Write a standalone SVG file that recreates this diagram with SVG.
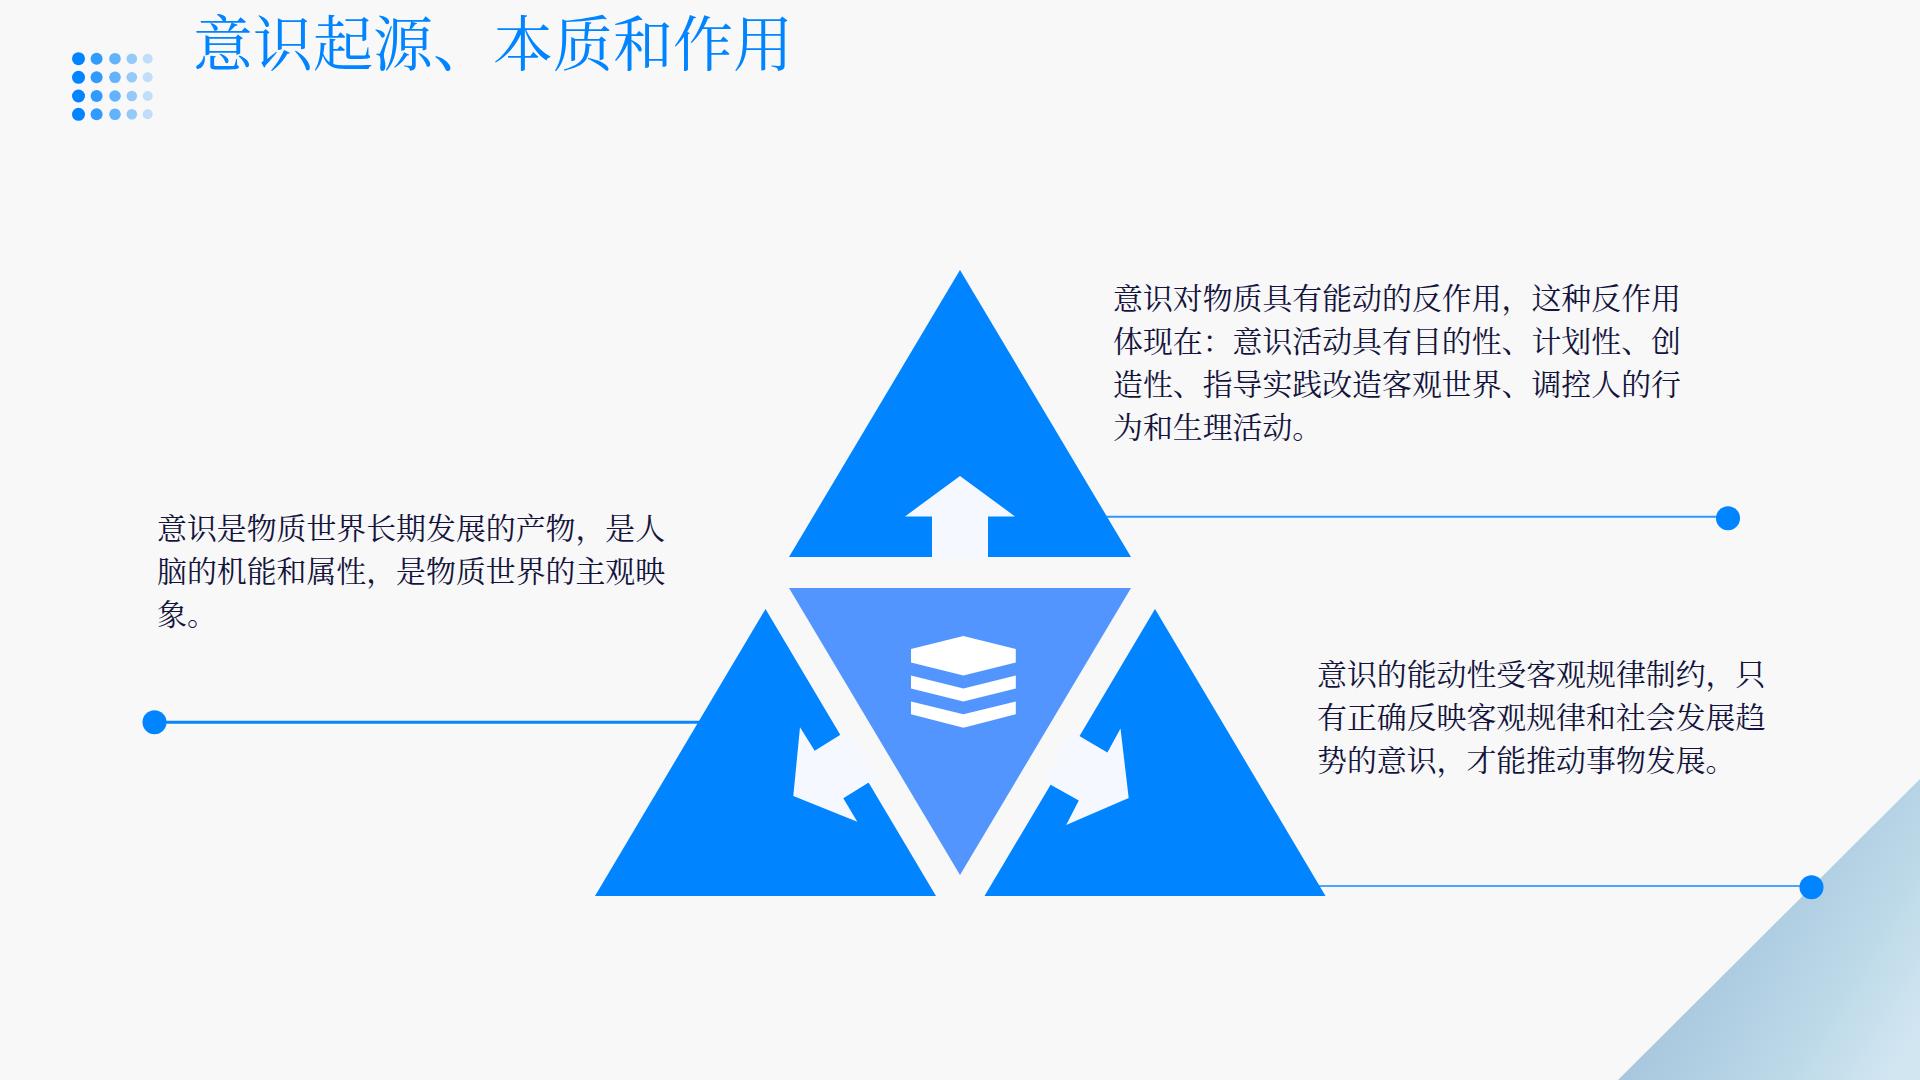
<svg xmlns="http://www.w3.org/2000/svg" width="1920" height="1080" viewBox="0 0 1920 1080">
<defs>
<linearGradient id="corner" gradientUnits="userSpaceOnUse" x1="1620" y1="1080" x2="1815" y2="1200"><stop offset="0" stop-color="#a8c7de"/><stop offset=".6" stop-color="#bcd9e8"/><stop offset="1" stop-color="#d2e6f2"/></linearGradient>
</defs>
<style>
.tri{fill:#0084ff}
.ar{fill:#f5f8ff}
.dot{fill:#0084ff}
.body{font-family:"Liberation Serif","Noto Serif CJK SC","Noto Sans CJK SC",serif;font-size:29.9px;fill:#14143c}
.title{font-family:"Liberation Serif","Noto Serif CJK SC","Noto Sans CJK SC",serif;font-size:60px;fill:#0084ff}
</style>
<rect width="1920" height="1080" fill="#f8f8f8"/>
<polygon points="1920,779 1920,1080 1618,1080" fill="url(#corner)"/>
<g id="dots">
<g fill="#0084ff"><circle cx="78.5" cy="58.7" r="6.5"/><circle cx="78.5" cy="77.3" r="6.5"/><circle cx="78.5" cy="96" r="6.5"/><circle cx="78.5" cy="114.3" r="6.5"/></g>
<g fill="#0084ff" opacity=".8"><circle cx="96.6" cy="58.7" r="6"/><circle cx="96.6" cy="77.3" r="6"/><circle cx="96.6" cy="96" r="6"/><circle cx="96.6" cy="114.3" r="6"/></g>
<g fill="#0084ff" opacity=".6"><circle cx="115" cy="58.7" r="5.8"/><circle cx="115" cy="77.3" r="5.8"/><circle cx="115" cy="96" r="5.8"/><circle cx="115" cy="114.3" r="5.8"/></g>
<g fill="#0084ff" opacity=".4"><circle cx="131.8" cy="58.7" r="5.3"/><circle cx="131.8" cy="77.3" r="5.3"/><circle cx="131.8" cy="96" r="5.3"/><circle cx="131.8" cy="114.3" r="5.3"/></g>
<g fill="#0084ff" opacity=".22"><circle cx="147.7" cy="58.7" r="5"/><circle cx="147.7" cy="77.3" r="5"/><circle cx="147.7" cy="96" r="5"/><circle cx="147.7" cy="114.3" r="5"/></g>
</g>
<text id="title" class="title" x="193" y="66">意识起源、本质和作用</text>
<g id="connectors" fill="none">
<line x1="1105" y1="516.7" x2="1728" y2="516.7" stroke="#2e96ff" stroke-width="2"/>
<line x1="1318" y1="886" x2="1811" y2="886" stroke="#4da3ff" stroke-width="2"/>
<line x1="154" y1="722.3" x2="700" y2="722.3" stroke="#0a86fb" stroke-width="3"/>
<circle class="dot" cx="1728" cy="518.3" r="12"/>
<circle class="dot" cx="1811.5" cy="887.3" r="12"/>
<circle class="dot" cx="154.5" cy="722.3" r="12"/>
</g>
<g id="node-top">
<polygon class="tri" points="960,270 1131,557 789,557"/>
<polygon class="ar" points="960,476 1015,516.4 988,516.4 988,558 932,558 932,516.4 905,516.4"/>
</g>
<g id="node-center">
<polygon points="789,588 1131,588 960,875" fill="#5295ff"/>
<polygon fill="#fff" points="963.4,636 1015.8,649 1015.8,662.5 963.4,675.5 911,662.5 911,649"/>
<polygon fill="#fff" points="911,675.5 963.4,688.6 1015.8,675.5 1015.8,688.6 963.4,701.6 911,688.6"/>
<polygon fill="#fff" points="911,701.6 963.4,714.3 1015.8,701.6 1015.8,714.3 963.4,727.7 911,714.3"/>
</g>
<g id="node-left">
<polygon class="tri" points="765.5,609 936,896 595,896"/>
<polygon class="ar" points="800,727.3 814.7,750.7 840,735 848.3,730 876.7,778.3 868.3,782.7 843.3,798.3 857.3,821.7 793.3,796"/>
</g>
<g id="node-right">
<polygon class="tri" points="1155,609 1325.5,896 984.5,896"/>
<polygon class="ar" points="1120.5,728.5 1107.4,752.5 1080.2,736.5 1072,732 1046.3,776 1050.2,784.5 1078.8,800.5 1066.2,825 1128.7,798"/>
</g>
<g id="text-top" class="body">
<text x="1113" y="308.7">意识对物质具有能动的反作用，这种反作用</text>
<text x="1113" y="352">体现在：意识活动具有目的性、计划性、创</text>
<text x="1113" y="395.2">造性、指导实践改造客观世界、调控人的行</text>
<text x="1113" y="438.3">为和生理活动。</text>
</g>
<g id="text-right" class="body">
<text x="1317" y="684.7">意识的能动性受客观规律制约，只</text>
<text x="1317" y="728">有正确反映客观规律和社会发展趋</text>
<text x="1317" y="771.2">势的意识，才能推动事物发展。</text>
</g>
<g id="text-left" class="body">
<text x="157" y="538.7">意识是物质世界长期发展的产物，是人</text>
<text x="157" y="582">脑的机能和属性，是物质世界的主观映</text>
<text x="157" y="625.2">象。</text>
</g>
</svg>
